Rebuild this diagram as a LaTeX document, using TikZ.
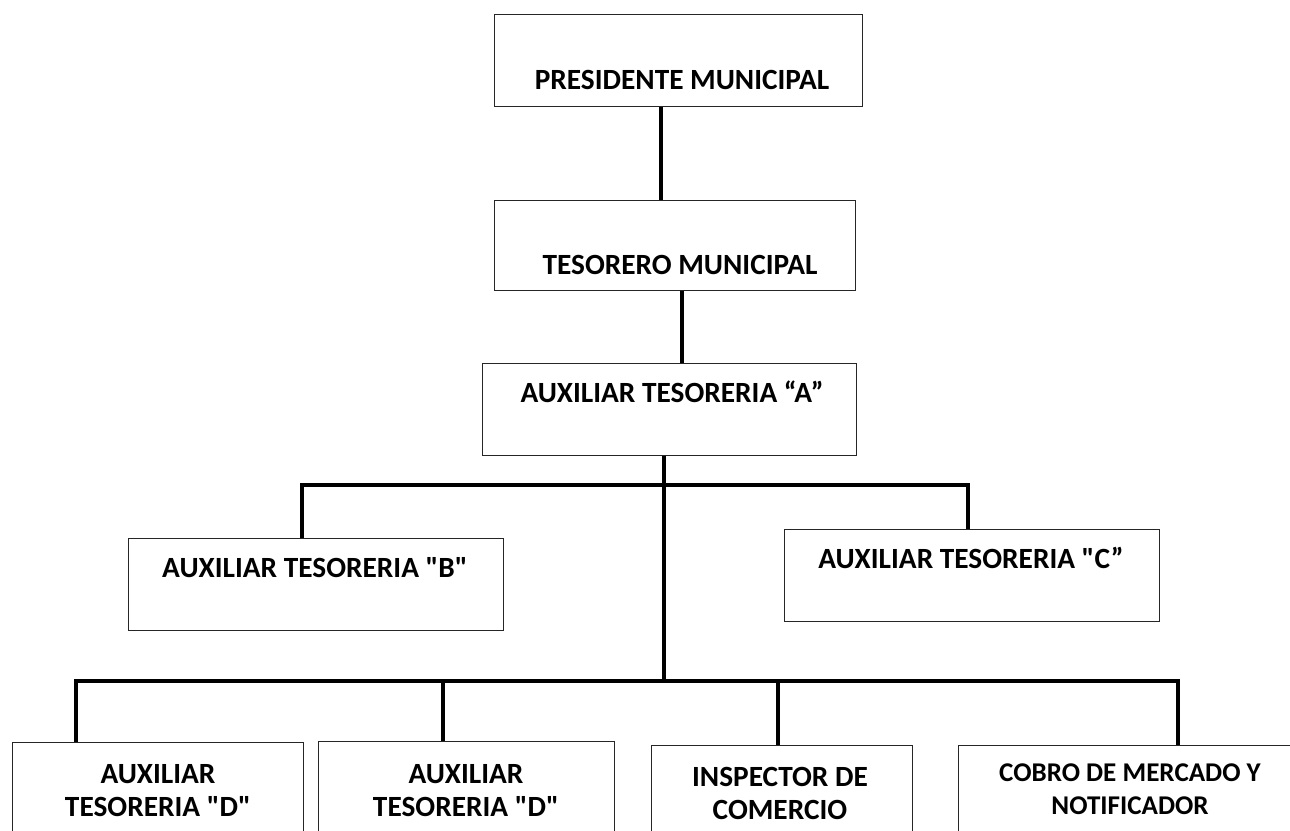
\documentclass[tikz,border=0pt]{standalone}
\usepackage{fontspec}
\setmainfont{Carlito}[Ligatures=TeXOff]
\usetikzlibrary{positioning, calc}

\tikzset{
  caja/.style={draw=black!85, line width=0.8pt, anchor=north west, inner sep=0pt},
  texto/.style={font=\bfseries\fontsize{22}{24.75}\selectfont, align=center, inner sep=0pt},
  textochico/.style={texto, font=\bfseries\fontsize{20.3}{24.75}\selectfont},
  linea/.style={line width=2.5pt, black},
}

\begin{document}
\begin{tikzpicture}[x=0.75pt, y=-0.75pt]
  \clip (0,0) rectangle (1290,831);

  % cajas
  \node[caja, minimum width=276pt, minimum height=69pt] (pres) at (494,14) {};
  \node[caja, minimum width=270.75pt, minimum height=67.5pt] (teso) at (494,200) {};
  \node[caja, minimum width=280.5pt, minimum height=69pt] (auxA) at (482,363) {};
  \node[caja, minimum width=281.25pt, minimum height=69pt] (auxB) at (128,538) {};
  \node[caja, minimum width=281.25pt, minimum height=69pt] (auxC) at (784,529) {};
  \node[caja, minimum width=218.25pt, minimum height=120pt] (auxD) at (12,742) {};
  \node[caja, minimum width=222pt, minimum height=120pt] (auxE) at (318,741) {};
  \node[caja, minimum width=195.75pt, minimum height=120pt] (insp) at (651,745) {};
  \node[caja, minimum width=260pt, minimum height=120pt] (cobro) at (958,745) {};

  % textos
  \node[texto] (presT) at (682,80) {PRESIDENTE MUNICIPAL};
  \node[texto] (tesoT) at (680,265) {TESORERO MUNICIPAL};
  \node[texto] (auxAT) at (672,392) {AUXILIAR TESORERIA “A”};
  \node[texto] (auxBT) at (315,568) {AUXILIAR TESORERIA "B"};
  \node[texto] (auxCT) at (971,558) {AUXILIAR TESORERIA "C”};
  \node[texto] (auxDT) at (158,791) {AUXILIAR\\TESORERIA "D"};
  \node[texto] (auxET) at (466,791) {AUXILIAR\\TESORERIA "D"};
  \node[texto] (inspT) at (780,793) {INSPECTOR DE\\COMERCIO};
  \node[textochico] (cobroT) at (1130,789) {COBRO DE MERCADO Y\\NOTIFICADOR};

  % puntos de las lineas
  \coordinate (c1) at (661,0);
  \coordinate (c2) at (682,0);
  \coordinate (busA) at (664,485);
  \coordinate (busAl) at (302,485);
  \coordinate (busAr) at (968,485);
  \coordinate (busB) at (664,681);
  \coordinate (busBl) at (76,681);
  \coordinate (busBr) at (1178,681);

  % lineas
  \draw[linea] (pres.south -| c1) -- (teso.north -| c1);
  \draw[linea] (teso.south -| c2) -- (auxA.north -| c2);
  \draw[linea] (auxA.south -| busA) -- (busA) -- (busB);
  \draw[linea] (auxB.north -| busAl) -- (busAl) -- (busAr) -- (auxC.north -| busAr);
  \draw[linea] (auxD.north -| busBl) -- (busBl) -- (busBr) -- (cobro.north -| busBr);
  \draw[linea] (auxE.north -| 443,0) -- (443,681);
  \draw[linea] (insp.north -| 778,0) -- (778,681);
\end{tikzpicture}
\end{document}
